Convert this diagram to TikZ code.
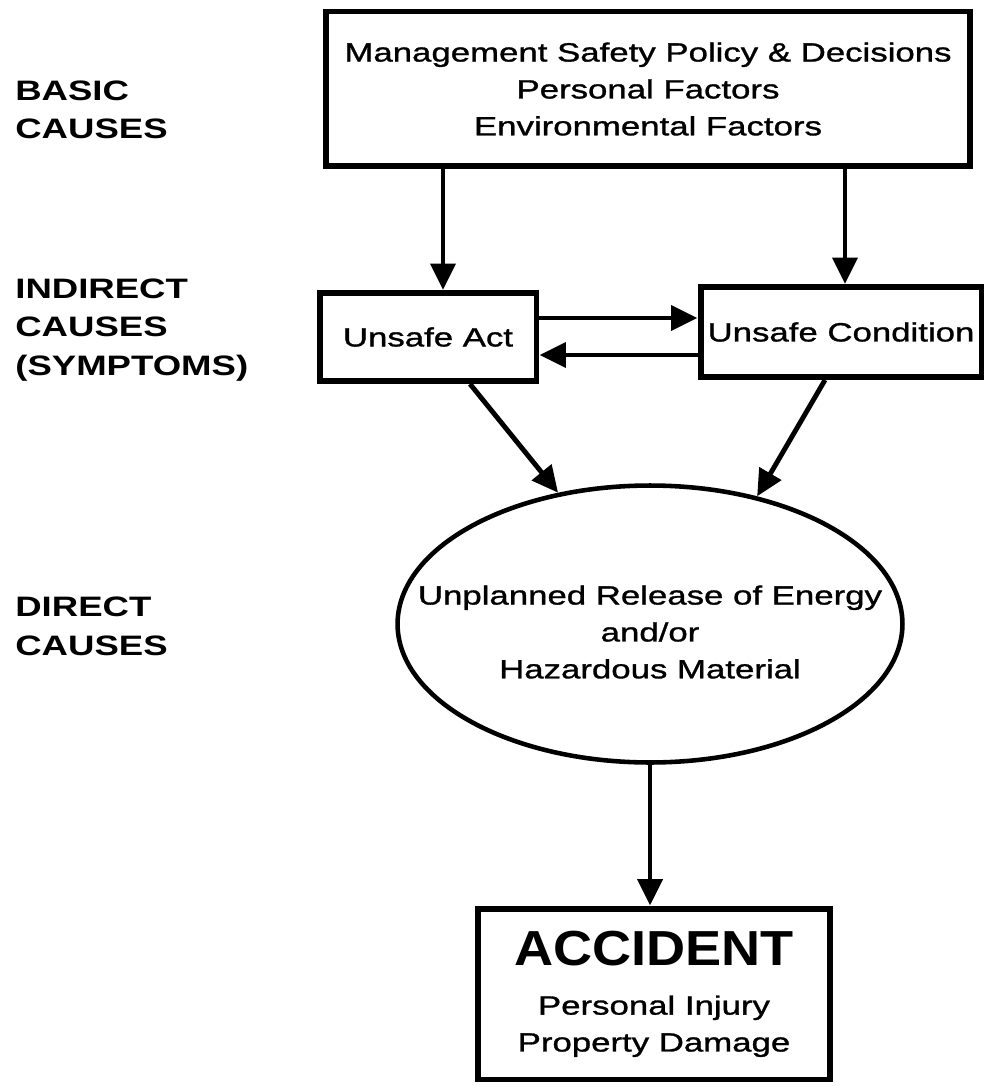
\documentclass[tikz,border=0pt]{standalone}
\usepackage{fontspec}
\setmainfont{Liberation Sans}[FakeStretch=1.3]
\newfontfamily\bodyfont{Liberation Sans}[FakeStretch=1.32,FakeBold=1.2]
\newfontfamily\headfont{Liberation Sans}[FakeStretch=1.1]
\usetikzlibrary{arrows.meta,shapes.geometric}

\tikzset{
  cause/.style={font=\fontsize{16}{22}\selectfont\bfseries, align=left, anchor=west, inner sep=0pt},
  box/.style={shape=rectangle, draw=black, line width=3.4pt, align=center, font=\bodyfont\fontsize{15}{21}\selectfont},
  arr/.style={line width=2.8pt, -{Triangle[length=15pt,width=14pt]}},
}

\begin{document}
\begin{tikzpicture}[x=0.02cm,y=-0.02cm]
\useasboundingbox (0,0) rectangle (986,1087);
% left column labels
\node[cause] (basic) at (15,110) {BASIC\\CAUSES};
\node[cause] (indirect) at (15,330) {INDIRECT\\CAUSES\\(SYMPTOMS)};
\node[cause] (direct) at (15,626) {DIRECT\\CAUSES};

% boxes
\node[box, minimum width=12.9cm, minimum height=3.1cm] (policy) at (648,89) {Management Safety Policy \& Decisions\\Personal Factors\\Environmental Factors};
\node[box, minimum width=4.34cm, minimum height=1.76cm] (act) at (428,337) {Unsafe Act};
\node[box, minimum width=5.62cm, minimum height=1.8cm] (cond) at (841,332) {Unsafe Condition};
\node[shape=ellipse, draw=black, line width=2.6pt, minimum width=10.1cm, minimum height=5.54cm,
  label={[yshift=-0.16cm, align=center, font=\bodyfont\fontsize{15}{21}\selectfont]center:Unplanned Release of Energy\\and/or\\Hazardous Material}] (release) at (650,624) {};
\node[box, minimum width=7.06cm, minimum height=3.42cm] (accident) at (654,994) {{\headfont\bfseries\fontsize{28}{30}\selectfont ACCIDENT}\\[7pt]Personal Injury\\Property Damage};

% arrows
\coordinate (l) at (443,0);
\coordinate (r) at (845,0);
\coordinate (hi) at (0,318);
\coordinate (lo) at (0,355);
\coordinate (dl) at (470,0);
\coordinate (dr) at (825,0);
\path[arr] (policy.south -| l) edge (act.north -| l);
\path[arr] (policy.south -| r) edge (cond.north -| r);
\path[arr] (act.east |- hi) edge (cond.west |- hi);
\path[arr] (cond.west |- lo) edge (act.east |- lo);
\path[arr] (act.south -| dl) edge (release.125);
\path[arr] (cond.south -| dr) edge (release.50);
\path[arr] (release.south) edge (accident.north -| release.south);
\end{tikzpicture}
\end{document}
